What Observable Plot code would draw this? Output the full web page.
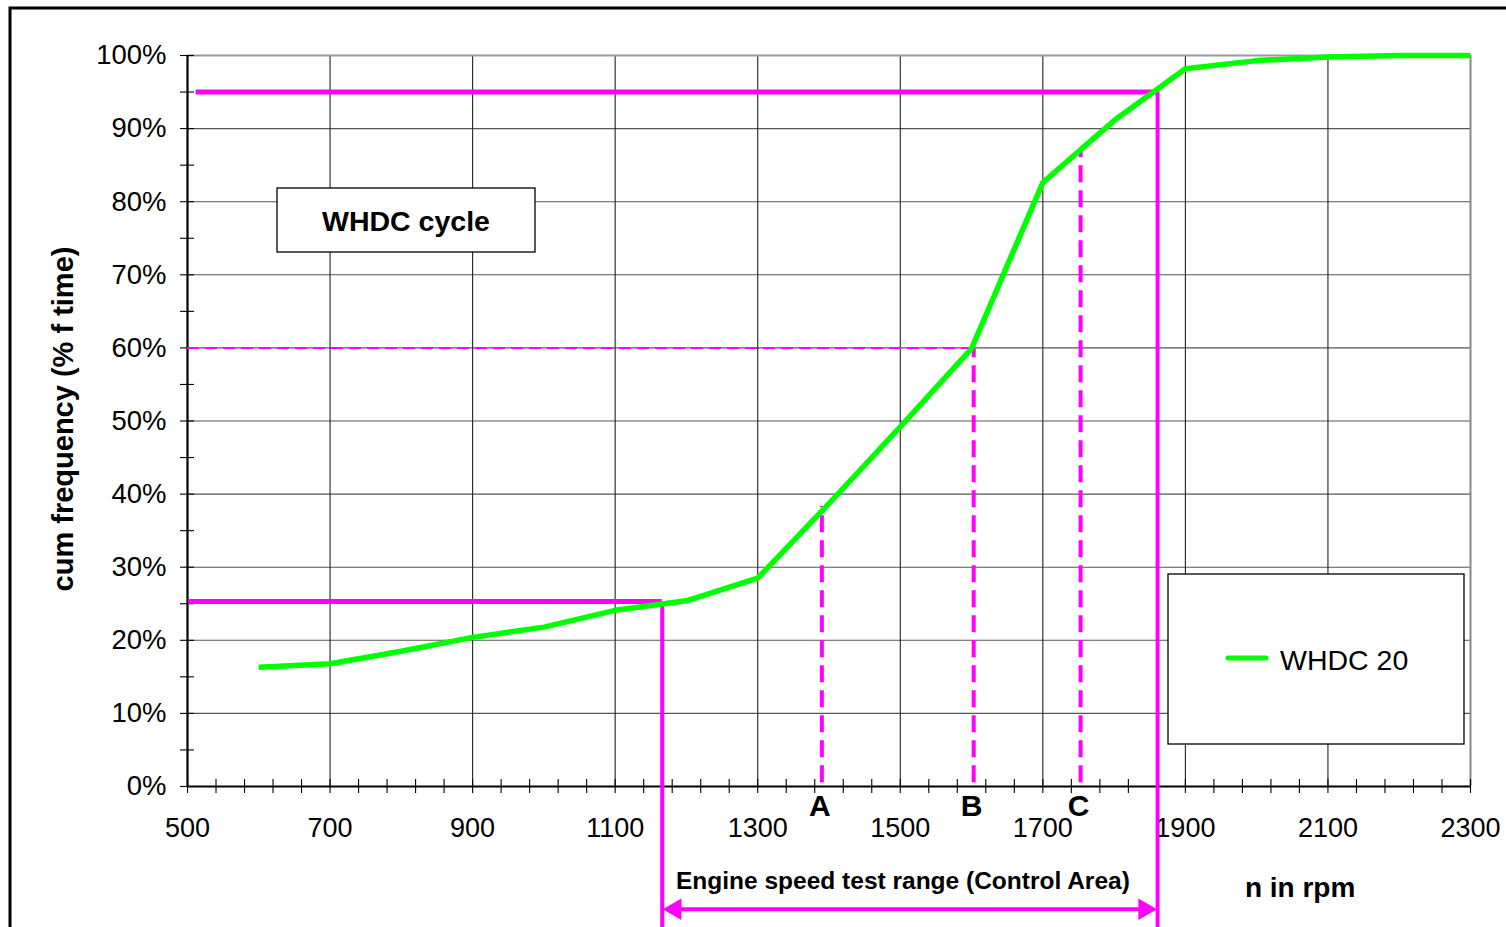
<!DOCTYPE html>
<html>
<head>
<meta charset="utf-8">
<script src="https://cdn.jsdelivr.net/npm/d3@7"></script>
<script src="https://cdn.jsdelivr.net/npm/@observablehq/plot@0.6"></script>
<style>
  html, body { margin: 0; padding: 0; background: #fff; }
  #chart { width: 1506px; height: 927px; overflow: hidden; }
</style>
</head>
<body>
<div id="chart"></div>
<script>
// ---- data ----
const rpm = [600, 700, 800, 900, 1000, 1100, 1200, 1300, 1400, 1500, 1600, 1700, 1800, 1900, 2000, 2100, 2200, 2300];
const cumFreq = [16.3, 16.8, 18.5, 20.4, 21.8, 24.1, 25.4, 28.5, 38.7, 49.2, 59.9, 82.6, 91.1, 98.2, 99.3, 99.8, 100, 100];
const seriesName = "WHDC 20";
const chartTitle = "WHDC cycle";

const limitRpm = [1166, 1861];     // control area limits
const limitPct = [25.3, 95];

const markerLabels = ["A", "B", "C"];
const markerRpm = [1390, 1603, 1753];
const markerPct = [38.3, 60, 87];

const xTickValues = [500, 700, 900, 1100, 1300, 1500, 1700, 1900, 2100, 2300];
const yTickValues = [0, 10, 20, 30, 40, 50, 60, 70, 80, 90, 100];
const xMinorTicks = d3.range(500, 2301, 40);
const yMinorTicks = d3.range(0, 101, 5);

const xLabel = "n in rpm";
const yLabel = "cum frequency (% f time)";
const rangeLabel = "Engine speed test range (Control Area)";

// ---- build ----
const curve = rpm.map((r, i) => ({rpm: r, pct: cumFreq[i]}));
const idx2 = [0, 1];
const idx3 = [0, 1, 2];
const MAG = "#ff00ff";
const GREEN = "#00ff00";
const FONT = "Liberation Sans, Arial, Helvetica, sans-serif";

const plot = Plot.plot({
  width: 1506,
  height: 927,
  marginLeft: 187,
  marginRight: 36,
  marginTop: 55,
  marginBottom: 141,
  x: {domain: [500, 2300]},
  y: {domain: [0, 100]},
  style: {fontFamily: FONT, background: "white", color: "black", fontSize: "27px"},
  marks: [
    // grid
    Plot.ruleY(yTickValues.filter(d => d > 0), {stroke: "#555", strokeWidth: 1.1}),
    Plot.ruleX(xTickValues.filter(d => d > 500 && d < 2300), {stroke: "#222", strokeWidth: 1.1}),
    Plot.ruleX([2300], {stroke: "#888", strokeWidth: 2}),
    Plot.ruleY([100], {stroke: "#999", strokeWidth: 2}),
    // ticks
    Plot.ruleX(xMinorTicks, {y1: -0.95, y2: 0.95, stroke: "#000", strokeWidth: 1.1}),
    Plot.ruleY(yMinorTicks, {x1: 490.2, x2: 509.8, stroke: "#000", strokeWidth: 1.1}),
    // axis lines
    Plot.ruleY([0], {stroke: "#000", strokeWidth: 2.2}),
    Plot.ruleX([500], {stroke: "#000", strokeWidth: 2.2}),
    Plot.axisX({ticks: xTickValues, tickSize: 0, tickPadding: 31, label: null, fontSize: 27, tickFormat: d => String(d)}),
    Plot.axisY({ticks: yTickValues, tickSize: 0, tickPadding: 21, tickFormat: d => d + "%", label: null, fontSize: 27.5}),
    // dashed helper lines
    Plot.ruleY([1], {x1: 500, x2: i => markerRpm[i], y: i => markerPct[i], stroke: MAG, strokeWidth: 2, strokeDasharray: "12,6"}),
    Plot.ruleX(idx3, {x: i => markerRpm[i], y1: 0.5, y2: i => markerPct[i], stroke: MAG, strokeWidth: 4, strokeDasharray: "17,8"}),
    // control area limits
    Plot.ruleY(idx2, {x1: i => i === 0 ? 502 : 512, x2: i => limitRpm[i], y: i => limitPct[i], stroke: MAG, strokeWidth: 5}),
    Plot.ruleX(idx2, {x: i => limitRpm[i], y1: -19.6, y2: i => limitPct[i], stroke: MAG, strokeWidth: 4}),
    // series
    Plot.line(curve, {x: "rpm", y: "pct", stroke: GREEN, strokeWidth: 5.5, strokeLinejoin: "round", strokeLinecap: "butt"}),
    // range arrow
    Plot.ruleY([-16.8], {x1: limitRpm[0] + 8, x2: limitRpm[1] - 8, stroke: MAG, strokeWidth: 4}),
    Plot.dot([0], {x: limitRpm[0], y: -16.8, dx: 13, symbol: "triangle", r: 8, rotate: -90, fill: MAG, stroke: "none"}),
    Plot.dot([1], {x: limitRpm[1], y: -16.8, dx: -13, symbol: "triangle", r: 8, rotate: 90, fill: MAG, stroke: "none"}),
    // labels
    Plot.text(idx3, {x: i => markerRpm[i], y: 0, dy: 20, dx: -2, text: i => markerLabels[i], fontWeight: "bold", fontSize: 30, fill: "#000"}),
    Plot.text([rangeLabel], {x: (limitRpm[0] + limitRpm[1]) / 2, y: -13, dx: -7, text: d => d, fontWeight: "bold", fontSize: 24.5, fill: "#000"}),
    Plot.text([xLabel], {x: 2061, y: -13.9, text: d => d, fontWeight: "bold", fontSize: 28, fill: "#000"})
  ]
});

document.getElementById("chart").appendChild(plot);

// ---- decorations (frame, boxes, rotated y label) ----
const svg = d3.select(plot);
svg.append("path")
  .attr("d", "M10,930 V8 H1510")
  .attr("fill", "none").attr("stroke", "#000").attr("stroke-width", 3);

svg.append("text")
  .attr("transform", "translate(63,419) rotate(-90)")
  .attr("text-anchor", "middle").attr("dominant-baseline", "central")
  .attr("font-weight", "bold").attr("font-size", 29).attr("fill", "#000")
  .text(yLabel);

// title box
const tb = svg.append("g");
tb.append("rect").attr("x", 277).attr("y", 188).attr("width", 258).attr("height", 64)
  .attr("fill", "#fff").attr("stroke", "#000").attr("stroke-width", 1.3);
tb.append("text").attr("x", 406).attr("y", 221)
  .attr("text-anchor", "middle").attr("dominant-baseline", "central")
  .attr("font-weight", "bold").attr("font-size", 28.5).attr("fill", "#000")
  .text(chartTitle);

// legend box
const lg = svg.append("g");
lg.append("rect").attr("x", 1168).attr("y", 574).attr("width", 296).attr("height", 170)
  .attr("fill", "#fff").attr("stroke", "#000").attr("stroke-width", 1.3);
lg.append("line").attr("x1", 1228).attr("x2", 1266).attr("y1", 658).attr("y2", 658)
  .attr("stroke", GREEN).attr("stroke-width", 5).attr("stroke-linecap", "round");
lg.append("text").attr("x", 1280).attr("y", 660)
  .attr("text-anchor", "start").attr("dominant-baseline", "central")
  .attr("font-size", 28.5).attr("fill", "#000")
  .text(seriesName);
</script>
</body>
</html>
